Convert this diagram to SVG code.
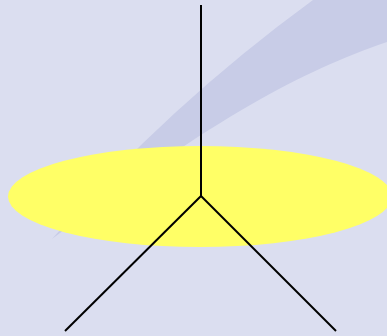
<svg xmlns="http://www.w3.org/2000/svg" width="387" height="336" viewBox="0 0 387 336">
<style>
.conn{stroke:#000;stroke-width:2;fill:none;stroke-linecap:butt}
</style>
<rect x="0" y="0" width="387" height="336" fill="#dbdef0"/>
<path d="M313,0 L387,0 L387,42 C300,72 220,115 52,239 Q169,105 313,0 Z" fill="#c8cce7"/>
<g id="node-ellipse">
<ellipse cx="200" cy="196.5" rx="192" ry="50.5" fill="#ffff66"/>
</g>
<g id="connectors">
<line class="conn" x1="201" y1="5" x2="201" y2="196"/>
<line class="conn" x1="201" y1="196" x2="65" y2="331"/>
<line class="conn" x1="201" y1="196" x2="336" y2="331"/>
</g>
</svg>
